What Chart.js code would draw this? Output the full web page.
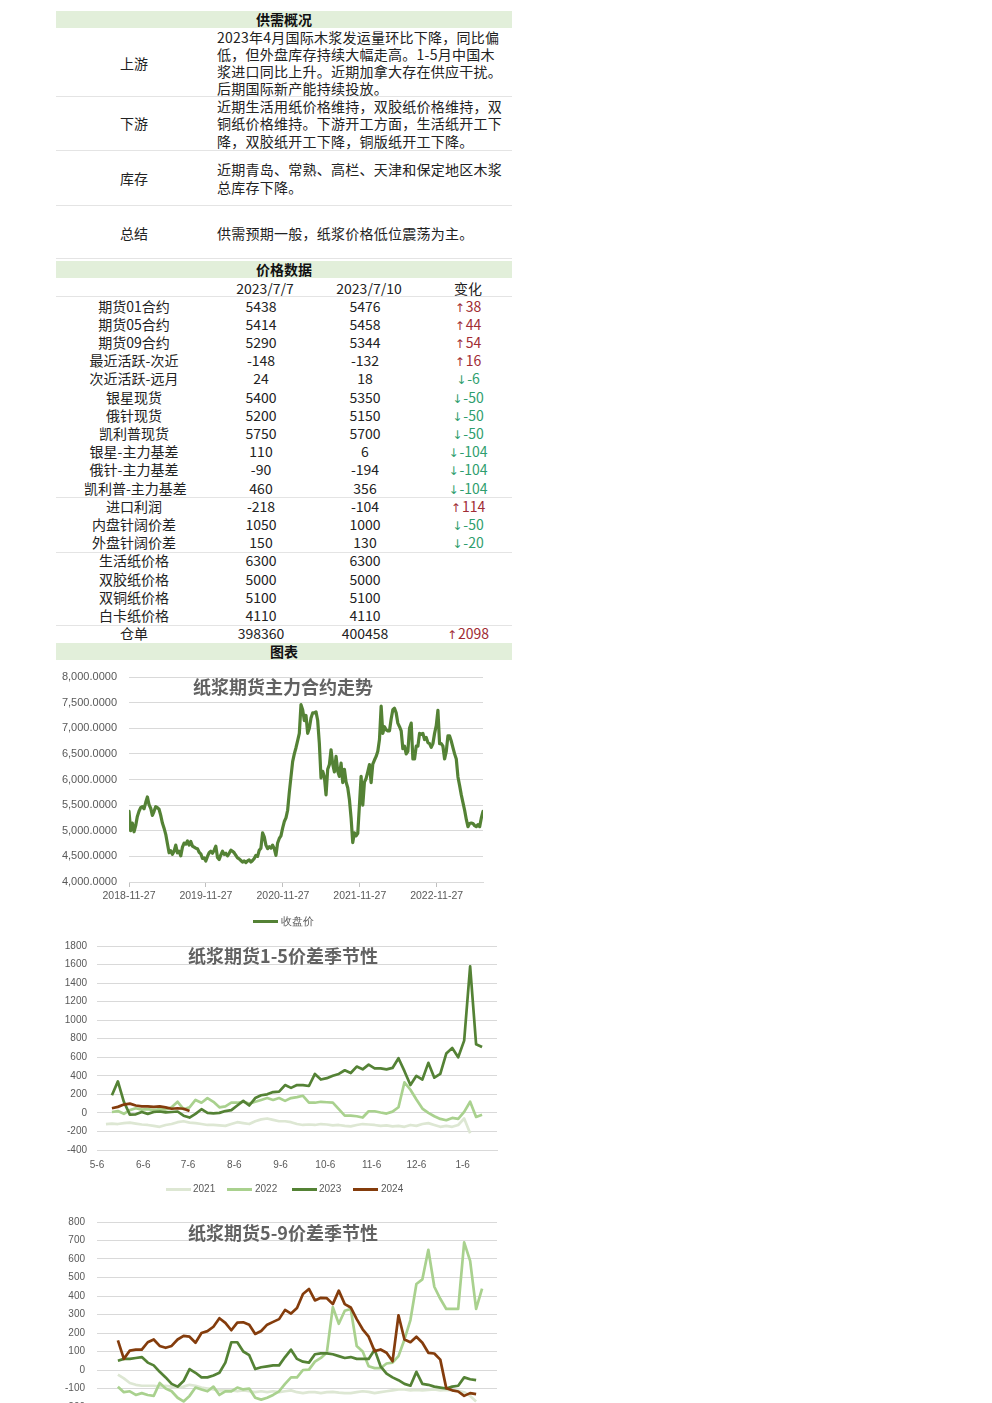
<!DOCTYPE html>
<html><head><meta charset="utf-8">
<script src="https://cdn.jsdelivr.net/npm/chart.js@4.4.0/dist/chart.umd.min.js"></script>
<style>
html,body{margin:0;padding:0;background:#fff;}
body{width:992px;height:1403px;overflow:hidden;position:relative;font-family:"Noto Sans CJK SC",sans-serif;color:#222;}
.bar{position:absolute;left:56px;width:456px;height:17px;line-height:17px;background:#e2efda;font-weight:bold;font-size:14px;text-align:center;color:#111;}
.sep{position:absolute;left:56px;width:456px;height:1px;background:#e4e4e4;}
.ln{position:absolute;left:217px;font-size:14px;line-height:17px;white-space:nowrap;letter-spacing:0.25px;}
.lab{position:absolute;left:84px;width:100px;text-align:center;font-size:14px;line-height:17px;}
.cell{position:absolute;font-size:14px;line-height:17px;text-align:center;white-space:nowrap;}
.title{position:absolute;left:56px;width:454px;text-align:center;font-size:18px;line-height:26px;font-weight:bold;color:#626262;z-index:2;}
.lg{position:absolute;font-family:"Liberation Sans",sans-serif;font-size:10.5px;color:#595959;line-height:14px;white-space:nowrap;}
.sw{position:absolute;height:3px;}
canvas{position:absolute;}
.up{color:#a02c34;}
.dn{color:#2f9e6e;}
.ar{font-family:"DejaVu Sans",sans-serif;font-size:12px;margin-right:1px;}
</style>
</head><body>

<div class="bar" style="top:11px;">供需概况</div>
<div class="lab" style="top:55px;">上游</div>
<div class="ln" style="top:29px;">2023年4月国际木浆发运量环比下降，同比偏</div>
<div class="ln" style="top:46px;">低，但外盘库存持续大幅走高。1-5月中国木</div>
<div class="ln" style="top:63px;">浆进口同比上升。近期加拿大存在供应干扰。</div>
<div class="ln" style="top:80px;">后期国际新产能持续投放。</div>
<div class="sep" style="top:96px;"></div>
<div class="lab" style="top:115px;">下游</div>
<div class="ln" style="top:97.5px;">近期生活用纸价格维持，双胶纸价格维持，双</div>
<div class="ln" style="top:115px;">铜纸价格维持。下游开工方面，生活纸开工下</div>
<div class="ln" style="top:132.5px;">降，双胶纸开工下降，铜版纸开工下降。</div>
<div class="sep" style="top:150px;"></div>
<div class="lab" style="top:169.5px;">库存</div>
<div class="ln" style="top:161px;">近期青岛、常熟、高栏、天津和保定地区木浆</div>
<div class="ln" style="top:178.5px;">总库存下降。</div>
<div class="sep" style="top:205px;"></div>
<div class="lab" style="top:225px;">总结</div>
<div class="ln" style="top:225px;">供需预期一般，纸浆价格低位震荡为主。</div>
<div class="sep" style="top:258px;"></div>

<div class="bar" style="top:261px;">价格数据</div>
<div id="ptable"></div>
<div class="bar" style="top:643px;">图表</div>

<div class="title" style="top:673px;">纸浆期货主力合约走势</div>
<canvas id="c1" width="440" height="270" style="left:56px;top:665px;"></canvas>
<div class="sw" style="left:253px;top:920px;width:25px;background:#548235;"></div>
<div class="lg" style="left:281px;top:914px;">收盘价</div>

<div class="title" style="top:942px;">纸浆期货1-5价差季节性</div>
<canvas id="c2" width="450" height="270" style="left:56px;top:935px;"></canvas>
<div id="lg2"></div>

<div class="title" style="top:1219px;">纸浆期货5-9价差季节性</div>
<canvas id="c3" width="450" height="250" style="left:56px;top:1212px;"></canvas>

<script>
// ---------- table data ----------
const priceDates = ['2023/7/7', '2023/7/10', '变化'];
const priceRows = ['期货01合约','期货05合约','期货09合约','最近活跃-次近','次近活跃-远月','银星现货','俄针现货','凯利普现货','银星-主力基差','俄针-主力基差','凯利普-主力基差','进口利润','内盘针阔价差','外盘针阔价差','生活纸价格','双胶纸价格','双铜纸价格','白卡纸价格','仓单'];
const price0707 = [5438,5414,5290,-148,24,5400,5200,5750,110,-90,460,-218,1050,150,6300,5000,5100,4110,398360];
const price0710 = [5476,5458,5344,-132,18,5350,5150,5700,6,-194,356,-104,1000,130,6300,5000,5100,4110,400458];
const priceChange = [38,44,54,16,-6,-50,-50,-50,-104,-104,-104,114,-50,-20,null,null,null,null,2098];
const groupEnds = [10,13,17];

// ---------- chart 1: main contract close ----------
const priceStartDate = '2018-11-27';
const priceStepDays = 7.93;
const priceTickLabels = ['2018-11-27','2019-11-27','2020-11-27','2021-11-27','2022-11-27'];
const closePrice = [
5380,5000,5150,4980,5100,5280,5380,5450,5470,5430,5550,5660,5510,5440,5300,5380,5470,5450,5420,5300,
5150,5050,4930,4750,4570,4610,4540,4600,4720,4570,4600,4510,4680,4760,4740,4800,4720,4790,4700,4680,
4660,4650,4580,4550,4460,4470,4410,4500,4570,4600,4560,4620,4700,4480,4440,4530,4600,4540,4560,4510,
4560,4620,4600,4570,4520,4470,4450,4420,4390,4410,4380,4410,4430,4390,4420,4460,4520,4500,4620,4660,
4960,4880,4720,4650,4690,4660,4720,4650,4520,4760,4850,4900,5050,5180,5250,5400,5750,6050,6350,6500,
6620,6760,6900,7460,7360,7150,7250,6900,
7000,7200,7300,7300,7320,7150,6700,6030,6160,6050,5700,6200,6290,6580,6300,6150,6450,6160,6060,6320,
5940,6200,5950,5840,5610,5250,4770,4960,4900,4950,5500,6060,5500,5950,6020,6150,6290,5940,6300,6380,
6450,6550,6780,7430,6900,7030,6970,6950,6950,7180,7360,7390,7300,7100,7030,6950,6600,6650,6500,6550,
7000,7100,6400,6400,6650,6650,6900,6880,6900,6780,6820,6720,6700,6630,6700,6900,7050,7350,6700,6700,
6650,6400,6550,6850,6850,6750,6620,6500,6400,6050,5880,5700,5550,5400,5220,5080,5140,5150,5140,5100,
5080,5120,5080,5250,5380];

// ---------- seasonal charts ----------
const seasonTickLabels = ['5-6','6-6','7-6','8-6','9-6','10-6','11-6','12-6','1-6'];
const seasonFirstDay = 6, seasonStepDays = 4, seasonMaxDay = 268;
const seasonYears = ['2021','2022','2023','2024'];
const spread15_2021 = [-120,-115,-120,-110,-105,-115,-125,-130,-140,-150,
 -130,-120,-100,-90,-105,-110,-120,-130,-130,-135,
 -140,-120,-100,-110,-120,-90,-70,-60,-75,-90,
 -90,-100,-120,-130,-125,-130,-120,-125,-135,-130,
 -140,-145,-130,-120,-125,-130,-140,-135,-145,-140,
 -150,-130,-140,-120,-110,-130,-150,-140,-150,-130,
 -60,-220,null,null];
const spread15_2022 = [null,10,20,-10,30,50,36,40,30,40,
 36,60,120,40,60,140,110,160,120,60,
 70,110,110,120,100,120,140,160,140,160,
 130,160,170,185,110,110,120,115,110,40,
 -30,-29,-36,-50,18,18,4,-7,14,61,
 330,250,144,47,0,-36,-65,-79,-54,-65,
 11,120,-43,-20];
const spread15_2023 = [null,190,340,120,-18,-15,10,-10,10,15,
 5,10,15,-30,-50,-10,40,0,-5,0,
 20,30,80,130,80,160,190,200,225,230,
 300,270,300,300,290,420,360,375,400,420,
 460,430,500,470,520,480,480,470,485,590,
 450,300,400,360,540,380,420,640,700,600,
 780,1580,740,710];
const spread15_2024 = [null,50,65,90,100,80,70,70,65,70,
 60,45,50,45,20,null,null,null,null,null,
 null,null,null,null,null,null,null,null,null,null,
 null,null,null,null,null,null,null,null,null,null,
 null,null,null,null,null,null,null,null,null,null,
 null,null,null,null,null,null,null,null,null,null,
 null,null,null,null];

const spread59_2021 = [null,null,-25,-45,-70,-80,-85,-85,-85,-90,
 -85,-90,-95,-90,-80,-85,-95,-100,-105,-110,
 -110,-110,-115,-110,-115,-120,-115,-120,-115,-120,
 -115,-110,-120,-125,-120,-120,-125,-120,-118,-122,
 -125,-125,-120,-115,-118,-125,-120,-115,-110,-105,
 -105,-110,-108,-110,-108,-105,-110,-108,-110,-112,
 -120,-140,-170,null];
const spread59_2022 = [null,null,-90,-120,-115,-135,-125,-135,-140,-70,
 -100,-115,-150,-170,-140,-95,-105,-115,-90,-135,
 -115,-115,-95,-105,-100,-150,-160,-150,-135,-115,
 -75,-40,-40,0,2,45,65,95,340,250,
 320,330,130,100,20,10,10,35,40,75,
 165,270,465,490,650,450,385,330,330,330,
 690,590,330,440];
const spread59_2023 = [null,null,50,60,60,65,70,40,25,-10,
 -40,-75,-90,-60,5,-15,-40,-40,-30,-15,
 40,150,150,100,80,5,15,20,25,25,
 70,110,60,45,40,85,90,90,85,75,
 65,70,60,60,60,110,20,-20,-40,-55,
 -75,-85,-10,-75,-80,-90,-95,-100,-90,-85,
 -40,-50,-55,null];
const spread59_2024 = [null,null,160,60,105,110,110,150,165,130,
 120,130,165,184,180,147,200,210,234,280,
 255,215,256,258,245,195,211,245,260,275,
 325,305,335,411,438,376,390,388,356,429,
 356,338,275,220,180,102,111,93,47,296,
 165,150,180,147,93,89,56,-98,-110,-116,
 -140,-125,-130,null];

const yearColors = {'2021':'#dde7d3','2022':'#a9d18e','2023':'#548235','2024':'#843c0c'};

// ---------- build table ----------
(function(){
  const host = document.getElementById('ptable');
  let h = '';
  const hdrY = 279.5;
  h += `<div class="cell" style="left:215px;width:100px;top:${hdrY}px;">${priceDates[0]}</div>`;
  h += `<div class="cell" style="left:319px;width:100px;top:${hdrY}px;">${priceDates[1]}</div>`;
  h += `<div class="cell" style="left:418px;width:100px;top:${hdrY}px;">${priceDates[2]}</div>`;
  h += `<div class="sep" style="top:296px;"></div>`;
  priceRows.forEach((name,i)=>{
    const c = 306 + 18.2*i, t = (c-8.5).toFixed(1);
    h += `<div class="cell" style="left:84px;width:100px;top:${t}px;">${name}</div>`;
    h += `<div class="cell" style="left:211px;width:100px;top:${t}px;">${price0707[i]}</div>`;
    h += `<div class="cell" style="left:315px;width:100px;top:${t}px;">${price0710[i]}</div>`;
    const ch = priceChange[i];
    if (ch !== null) {
      const up = ch > 0;
      h += `<div class="cell ${up?'up':'dn'}" style="left:418px;width:100px;top:${t}px;"><span class="ar">${up?'↑':'↓'}</span>${ch}</div>`;
    }
    if (groupEnds.includes(i)) h += `<div class="sep" style="top:${(c+9.2).toFixed(1)}px;"></div>`;
  });
  host.innerHTML = h;
  const lx = [[166,193],[227,255],[292,319],[353,381]];
  let g = '';
  seasonYears.forEach((y,i)=>{
    g += `<div class="sw" style="left:${lx[i][0]}px;top:1188px;width:25px;background:${yearColors[y]};"></div>`;
    g += `<div class="lg" style="left:${lx[i][1]}px;top:1182px;font-size:10px;">${y}</div>`;
  });
  document.getElementById('lg2').innerHTML = g;
})();

// ---------- charts ----------
Chart.defaults.font.family = '"Liberation Sans", Arial, sans-serif';
Chart.defaults.color = '#595959';
const dayDiff = (a,b) => (Date.parse(b) - Date.parse(a)) / 86400000;

new Chart(document.getElementById('c1'), {
  type: 'line',
  data: { datasets: [{
    label: '收盘价',
    data: closePrice.map((v,i)=>({x: i*priceStepDays, y: v})),
    borderColor: '#548235', borderWidth: 3.2, pointRadius: 0, tension: 0,
    borderJoinStyle: 'round', borderCapStyle: 'round'
  }]},
  options: {
    responsive: false, animation: false, devicePixelRatio: 1,
    layout: { padding: { left: 0, right: 13, top: 12, bottom: 23 } },
    plugins: { legend: { display: false }, tooltip: { enabled: false } },
    scales: {
      x: {
        type: 'linear', min: 0, max: (closePrice.length-1)*priceStepDays,
        afterBuildTicks: s => { s.ticks = priceTickLabels.map(l => ({ value: dayDiff(priceStartDate, l) })); },
        afterFit: s => { s.height = 30; },
        ticks: { autoSkip: false, maxRotation: 0, padding: 3, font: { size: 10.5 },
                 callback: (v,i) => priceTickLabels[i] },
        grid: { drawOnChartArea: false, drawTicks: true, tickLength: 5, color: '#bfbfbf' },
        border: { display: true, color: '#d9d9d9' }
      },
      y: {
        min: 4000, max: 8000,
        afterFit: s => { s.width = 73; s.paddingTop = 0; s.paddingBottom = 0; },
        ticks: { stepSize: 500, padding: 12, font: { size: 11 },
                 callback: v => v.toLocaleString('en-US', { minimumFractionDigits: 4, maximumFractionDigits: 4 }) },
        grid: { color: '#d9d9d9', drawTicks: false },
        border: { display: false }
      }
    }
  }
});

function seasonTickDay(label) {
  const m = parseInt(label.split('-')[0], 10);
  const yr = m >= 5 ? 2023 : 2024;
  const d = `${yr}-${String(m).padStart(2,'0')}-06`;
  return dayDiff('2023-05-06', d);
}

function seasonChart(id, seriesByYear, yMin, yMax, yStep, tickPad, padTop, padBottom) {
  const datasets = seasonYears.slice().reverse().map(y => ({
    label: y,
    data: seriesByYear[y].map((v,i) => ({ x: seasonFirstDay + i*seasonStepDays, y: v })),
    borderColor: yearColors[y], borderWidth: 2.7, pointRadius: 0, tension: 0,
    borderJoinStyle: 'round', spanGaps: false
  }));
  return new Chart(document.getElementById(id), {
    type: 'line',
    data: { datasets },
    options: {
      responsive: false, animation: false, devicePixelRatio: 1,
      layout: { padding: { left: 0, right: 9, top: padTop, bottom: padBottom } },
      plugins: { legend: { display: false }, tooltip: { enabled: false } },
      scales: {
        x: {
          type: 'linear', min: 0, max: seasonMaxDay,
          afterBuildTicks: s => { s.ticks = seasonTickLabels.map(l => ({ value: seasonTickDay(l) })); },
          afterFit: s => { s.height = 30; },
          ticks: { autoSkip: false, maxRotation: 0, padding: 9, font: { size: 10 },
                   callback: (v,i) => seasonTickLabels[i] },
          grid: { drawOnChartArea: false, drawTicks: false },
          border: { display: true, color: '#d9d9d9' }
        },
        y: {
          min: yMin, max: yMax,
          afterFit: s => { s.width = 41; s.paddingTop = 0; s.paddingBottom = 0; },
          ticks: { stepSize: yStep, padding: tickPad, font: { size: 10 }, callback: v => String(v) },
          grid: { color: '#d9d9d9', drawTicks: false },
          border: { display: false }
        }
      }
    }
  });
}

seasonChart('c2', {'2021': spread15_2021, '2022': spread15_2022, '2023': spread15_2023, '2024': spread15_2024},
  -400, 1800, 200, 10, 11, 25);
seasonChart('c3', {'2021': spread59_2021, '2022': spread59_2022, '2023': spread59_2023, '2024': spread59_2024},
  -200, 800, 100, 12, 10, 25);
</script>
</body></html>
